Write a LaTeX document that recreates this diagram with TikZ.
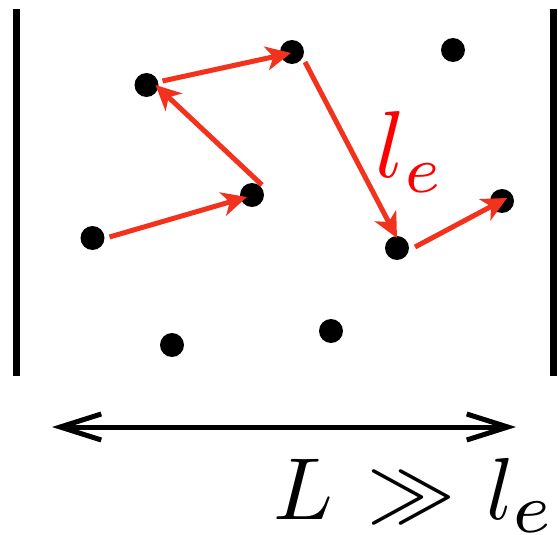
\documentclass[tikz,border=0pt]{standalone}
\usetikzlibrary{arrows.meta}
\definecolor{arr}{RGB}{242,50,28}
\begin{document}
\begin{tikzpicture}[x=1pt,y=-1pt,
  dot/.style={circle,fill=black,inner sep=0pt,minimum size=24pt},
  wall/.style={line width=7pt},
  hop/.style={draw=arr,line width=5pt,-{Stealth[length=25pt,width=24pt,inset=7pt]}},
  span/.style={line width=5pt,{Straight Barb[length=41pt,width=26pt]}-{Straight Barb[length=41pt,width=26pt]}},
  big/.style={scale=8.8,inner sep=0pt}]
\useasboundingbox (0,0) rectangle (558,535);
% walls
\draw[wall] (16.5,9) -- (16.5,376);
\draw[wall] (553,9) -- (553,376);
% particles
\node[dot] (p1) at (92.5,238) {};
\node[dot] (p2) at (146.5,85) {};
\node[dot] (p3) at (292,52) {};
\node[dot] (p4) at (453,50) {};
\node[dot] (p5) at (252,195) {};
\node[dot] (p6) at (397,248) {};
\node[dot] (p7) at (502,201) {};
\node[dot] (p8) at (172,345) {};
\node[dot] (p9) at (331,331) {};
% random walk
\draw[hop] ([xshift=17pt,yshift=1pt]p1.center) -- ([xshift=-5pt,yshift=-2pt]p5.center);
\draw[hop] ([xshift=10pt,yshift=10pt]p5.center) -- ([xshift=9pt,yshift=0pt]p2.center);
\draw[hop] ([xshift=16pt,yshift=4pt]p2.center) -- ([xshift=-1pt,yshift=-1pt]p3.center);
\draw[hop] ([xshift=13pt,yshift=-10pt]p3.center) -- ([xshift=0pt,yshift=10pt]p6.center);
\draw[hop] ([xshift=18pt,yshift=1pt]p6.center) -- ([xshift=5pt,yshift=3pt]p7.center);
\node[scale=9.5,inner sep=0pt,text=red,anchor=base west] (le) at (374,178) {$l_e$};
% system size
\coordinate (la) at (52,427);
\coordinate (lb) at (516,427);
\draw[span] (la) -- (lb);
\node[big,anchor=base west] (rel) at (272,519) {$L\mkern2mu\gg\mkern1.2mu l_{\scalebox{1.15}{$\scriptstyle e$}}$};
\end{tikzpicture}
\end{document}
